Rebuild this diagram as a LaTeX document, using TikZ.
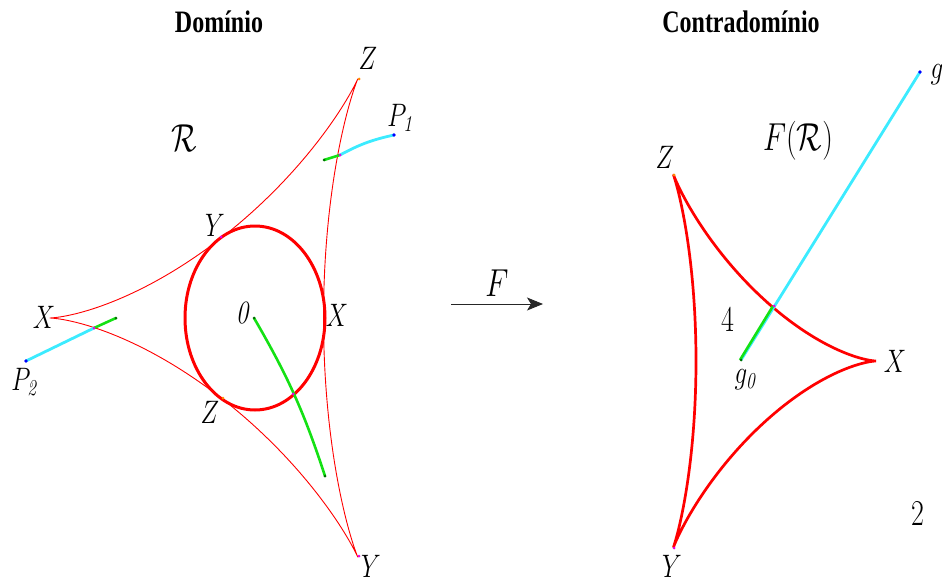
\RequirePackage{fix-cm}
\documentclass[tikz,border=0pt]{standalone}
\usepackage{fontspec}
\newfontfamily\titlefont{Liberation Serif}
\usetikzlibrary{arrows.meta}
\definecolor{myred}{RGB}{255,0,0}
\definecolor{mycyan}{RGB}{60,235,255}
\definecolor{mygreen}{RGB}{20,225,20}
\definecolor{dotgreen}{RGB}{0,110,0}
\definecolor{mymagenta}{RGB}{230,0,230}
\definecolor{myorange}{RGB}{255,140,0}
\newcommand{\vst}[1]{\scalebox{1}[1.3]{#1}}
\begin{document}
\begin{tikzpicture}[x=1pt,y=-1pt,
  lab/.style={inner sep=0pt, font=\fontsize{25}{30}\selectfont},
  biglab/.style={inner sep=0pt, font=\fontsize{30}{36}\selectfont},
  numlab/.style={inner sep=0pt, font=\fontsize{28}{33}\selectfont},
  ttl/.style={inner sep=0pt, font=\titlefont\bfseries\fontsize{24}{29}\selectfont},
  thincurve/.style={myred, line width=0.9pt, line join=round},
  thickcurve/.style={myred, line width=2.7pt, line join=round},
  cyanseg/.style={mycyan, line width=2.8pt},
  greenseg/.style={mygreen, line width=2.6pt}]
\useasboundingbox (0,0) rectangle (942,583);
% domain deltoid and inscribed ellipse
\draw[thincurve] plot[domain=0:360,samples=241,variable=\t]
  ({255-68.5*(2*cos(\t)+cos(2*\t))},{318+92*(2*sin(\t)-sin(2*\t))});
\draw[myred, line width=3pt] (255,318) ellipse [x radius=70pt, y radius=92pt];
% codomain deltoid
\draw[thickcurve] plot[domain=0:360,samples=241,variable=\t]
  ({741+45*(2*cos(\t)+cos(2*\t))},{361+71.6*(2*sin(\t)-sin(2*\t))});
% key points
\coordinate (c0) at (254,318);
\coordinate (m0) at (293,394);
\coordinate (cE) at (325,476);
\coordinate (p1) at (394,135);
\coordinate (m1) at (340,155);
\coordinate (q1) at (324,160);
\coordinate (p2) at (26,361);
\coordinate (m2) at (94,328);
\coordinate (q2) at (116,318);
\coordinate (gg) at (920,72);
\coordinate (mg) at (774,306);
\coordinate (g0) at (741,360);
\coordinate (aL) at (451,304);
\coordinate (aR) at (543,304);
\coordinate (zL) at (359,79);
\coordinate (yL) at (359,556);
\coordinate (yc) at (221,237);
\coordinate (zc) at (223,398);
\coordinate (zR) at (674,175);
\coordinate (yR) at (674,548);
% segments
\draw[greenseg] (c0) to[bend left=6] (cE);
\draw[cyanseg] (p1) to[bend right=8] (m1);
\draw[greenseg] (m1) -- (q1);
\draw[cyanseg] (p2) -- (m2);
\draw[greenseg] (m2) -- (q2);
\draw[cyanseg] (gg) -- (g0);
\draw[greenseg] ([xshift=-1pt]mg) -- ([xshift=-1pt]g0);
% dots
\fill[blue] (p1) circle (1.8pt);
\fill[blue] (p2) circle (1.8pt);
\fill[blue] (gg) circle (1.8pt);
\foreach \p in {c0,cE,q1,q2,g0} \fill[dotgreen] (\p) circle (1.5pt);
\foreach \p in {m0,m1,m2,mg,yc,yL,yR} \fill[mymagenta] (\p) circle (1.5pt);
\foreach \p in {zL,zc,zR} \fill[myorange] (\p) circle (1.5pt);
% arrow
\draw[-{Stealth[length=16pt,width=13pt,inset=4pt]}, line width=0.9pt, black!85] (aL) -- (aR);
% labels
\node[ttl] (tdom) at (219,22) {\vst{Domínio}};
\node[ttl] (tcod) at (741,22) {\vst{Contradomínio}};
\node[lab] (lZ1) at (368,58) {\vst{$Z$}};
\node[lab] (lP1) at (400,118) {\vst{$P_{\mathit{1}}$}};
\node[biglab] (lR) at (184,138) {\vst{$\mathcal{R}$}};
\node[lab] (lY1) at (215,225) {\vst{$Y$}};
\node[lab] (lX1) at (44,317) {\vst{$X$}};
\node[lab] (lP2) at (24,382) {\vst{$P_{\mathit{2}}$}};
\node[lab] (l0) at (242,313) {\vst{$\mathit{0}$}};
\node[lab] (lX2) at (337,315) {\vst{$X$}};
\node[lab] (lZ2) at (210,412) {\vst{$Z$}};
\node[lab] (lY2) at (371,566) {\vst{$Y$}};
\node[biglab] (lF) at (497,283) {\vst{$F$}};
\node[lab] (lZ3) at (665,157) {\vst{$Z$}};
\node[lab] (lg) at (937,75) {\vst{$g$}};
\node[biglab] (lFR) at (798,141) {\vst{$F(\mathcal{R})$}};
\node[numlab] (l4) at (728,319) {\vst{4}};
\node[lab] (lg0) at (745,380) {\vst{$g_{\mathit{0}}$}};
\node[lab] (lX3) at (895,361) {\vst{$X$}};
\node[lab] (lY3) at (672,566) {\vst{$Y$}};
\node[numlab] (l2) at (918,513) {\vst{2}};
\end{tikzpicture}
\end{document}
